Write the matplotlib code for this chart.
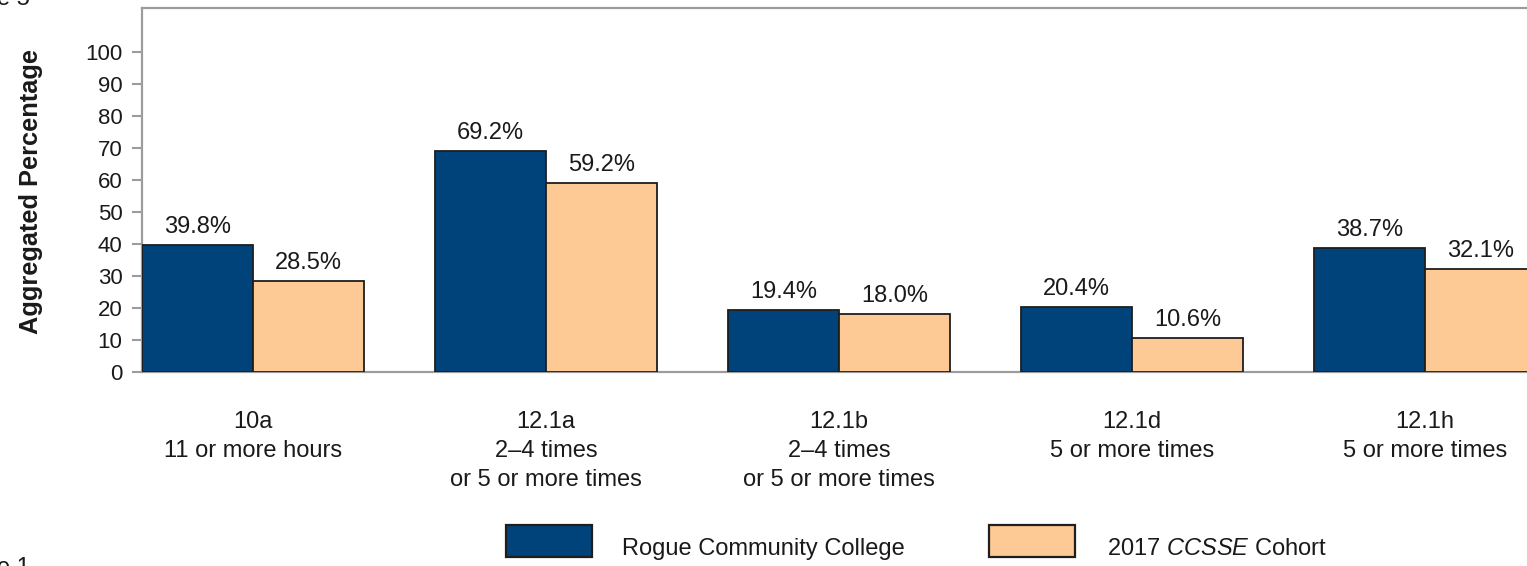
import matplotlib
matplotlib.use("Agg")
import matplotlib.pyplot as plt
from matplotlib.patches import Rectangle

plt.rcParams['font.family'] = ['Liberation Sans', 'DejaVu Sans']
plt.rcParams['mathtext.fontset'] = 'custom'
plt.rcParams['mathtext.it'] = 'Liberation Sans:italic'
plt.rcParams['mathtext.rm'] = 'Liberation Sans'

# ---- data ----
categories = [
    "10a\n11 or more hours",
    "12.1a\n2\u20134 times\nor 5 or more times",
    "12.1b\n2\u20134 times\nor 5 or more times",
    "12.1d\n5 or more times",
    "12.1h\n5 or more times",
]
college = [39.8, 69.2, 19.4, 20.4, 38.7]
cohort = [28.5, 59.2, 18.0, 10.6, 32.1]
series_names = ["Rogue Community College", "2017 $\\it{CCSSE}$ Cohort"]
yticks = list(range(0, 101, 10))

# ---- style ----
BLUE = "#00427a"
PEACH = "#fdc995"
EDGE = "#1e1e1e"
GREY = "#9c9c9c"
TXT = "#1a1a1a"
FS = 17
TFS = 16

W, H = 1527, 566
fig = plt.figure(figsize=(W / 100, H / 100), dpi=100)
ax = fig.add_axes([142 / W, (H - 372) / H, (W - 142) / W, (372 - 8) / H])

x = list(range(len(categories)))
bw = 0.379
b1 = ax.bar([i - bw / 2 for i in x], college, width=bw, color=BLUE,
            edgecolor=EDGE, linewidth=1.3, label=series_names[0], zorder=3)
b2 = ax.bar([i + bw / 2 for i in x], cohort, width=bw, color=PEACH,
            edgecolor=EDGE, linewidth=1.3, label=series_names[1], zorder=3)

for bars in (b1, b2):
    ax.bar_label(bars, fmt="%.1f%%", padding=5, fontsize=FS, color=TXT)

ax.set_xlim(-bw, -bw + (W - 142) / 293)
ax.set_ylim(0, 113.75)
ax.set_yticks(yticks)
ax.set_yticklabels([str(t) for t in yticks])
ax.set_xticks(x)
ax.set_xticklabels(categories, fontsize=FS, color=TXT, linespacing=1.42)
ax.tick_params(axis='x', length=0, pad=28)
ax.tick_params(axis='y', length=7, width=1.5, color=GREY, labelsize=TFS,
               labelcolor=TXT, pad=7)

for s in ('left', 'top', 'bottom'):
    ax.spines[s].set_color(GREY)
    ax.spines[s].set_linewidth(1.6)
ax.spines['right'].set_visible(False)

ax.set_ylabel("Aggregated Percentage", fontsize=18.3, fontweight='bold',
              color=TXT)
ax.yaxis.set_label_coords(-99 / (W - 142), (372 - 192) / 364)

# ---- legend (drawn in figure pixel positions) ----
leg_colors = [BLUE, PEACH]
leg_patch_x = [506, 989]
leg_text_x = [622, 1107]
for name, col, px, tx in zip(series_names, leg_colors, leg_patch_x, leg_text_x):
    fig.add_artist(Rectangle((px / W, (H - 557) / H), 86 / W, 32 / H,
                             transform=fig.transFigure, facecolor=col,
                             edgecolor=EDGE, linewidth=1.6))
    fig.text(tx / W, (H - 555) / H, name, fontsize=FS, color=TXT,
             va='baseline', ha='left')

# fragments of neighbouring page text
fig.text(-3 / W, (H - 5) / H, "e 5", fontsize=FS, color=TXT, va='baseline')
fig.text(-3 / W, (H - 557) / H, "e 1", fontsize=FS, color=TXT, va='top')

fig.savefig("out.png", dpi=100)
